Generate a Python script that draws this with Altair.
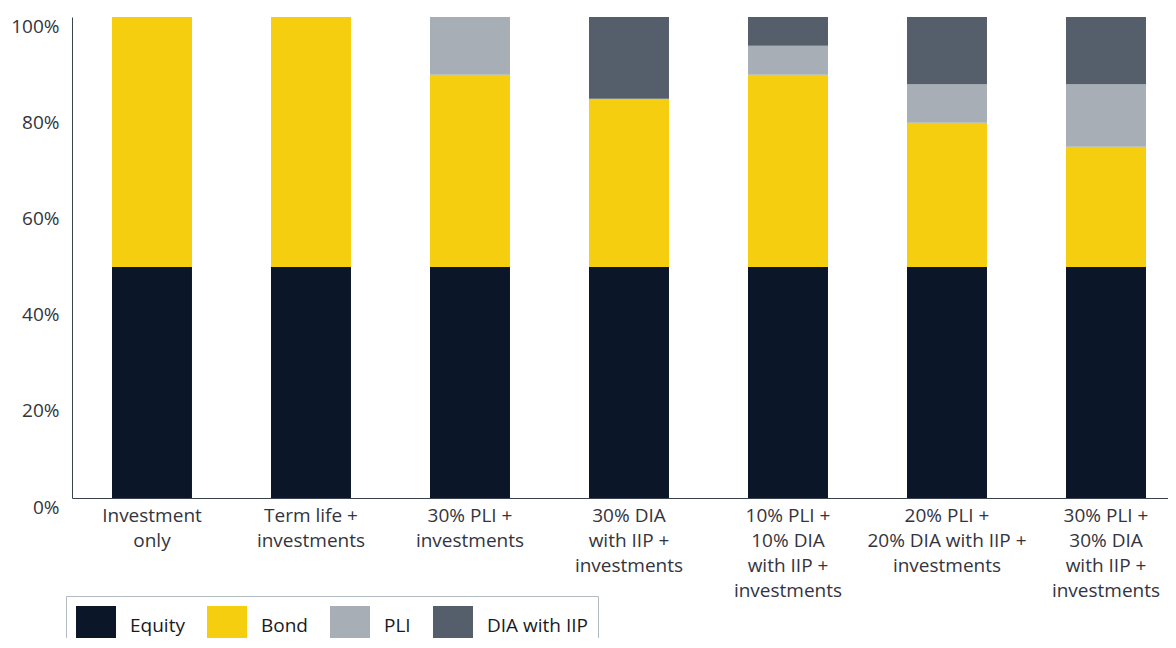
import altair as alt
import pandas as pd

categories = [
    "Investment|only",
    "Term life +|investments",
    "30% PLI +|investments",
    "30% DIA|with IIP +|investments",
    "10% PLI +|10% DIA|with IIP +|investments",
    "20% PLI +|20% DIA with IIP +|investments",
    "30% PLI +|30% DIA|with IIP +|investments",
]
series = ["Equity", "Bond", "PLI", "DIA with IIP"]
equity = [0.48, 0.48, 0.48, 0.48, 0.48, 0.48, 0.48]
bond = [0.52, 0.52, 0.40, 0.35, 0.40, 0.30, 0.25]
pli = [0.00, 0.00, 0.12, 0.00, 0.06, 0.08, 0.13]
dia = [0.00, 0.00, 0.00, 0.17, 0.06, 0.14, 0.14]
colors = ["#0b1628", "#f4ce0f", "#a7aeb5", "#545f6b"]

rows = []
for i, c in enumerate(categories):
    for j, (s, vals) in enumerate(zip(series, [equity, bond, pli, dia])):
        rows.append({"scenario": c, "series": s, "value": vals[i], "order": j})
df = pd.DataFrame(rows)

FONT = "Open Sans"
TXT = "#34343e"
NBSP = "\u00a0" * 12

chart = (
    alt.Chart(df)
    .mark_bar()
    .encode(
        x=alt.X(
            "scenario:N",
            sort=categories,
            title=None,
            scale=alt.Scale(paddingInner=0.497, paddingOuter=0.195, align=0.645, round=False),
            axis=alt.Axis(
                labelAngle=0,
                labelExpr="split(datum.label, '|')",
                labelLineHeight=25,
                labelBaseline="top",
                labelPadding=8,
                ticks=False,
                labelOverlap=False,
                labelBound=False,
                labelLimit=300,
                domainColor="#3a4250",
            ),
        ),
        y=alt.Y(
            "value:Q",
            stack="zero",
            title=None,
            scale=alt.Scale(domain=[0, 1], nice=False),
            axis=alt.Axis(
                format="%",
                values=[0, 0.2, 0.4, 0.6, 0.8, 1.0],
                grid=False,
                ticks=False,
                labelPadding=13,
                labelBaseline="top",
                domainColor="#3a4250",
            ),
        ),
        color=alt.Color(
            "series:N",
            sort=series,
            scale=alt.Scale(domain=series, range=colors),
            legend=alt.Legend(
                title=None,
                orient="none",
                legendX=-6,
                legendY=579,
                direction="horizontal",
                columns=4,
                symbolType="square",
                symbolSize=1600,
                symbolStrokeWidth=0,
                symbolOpacity=1,
                labelOffset=14,
                columnPadding=22,
                padding=10,
                strokeColor="#b3bac1",
                labelFontSize=19,
                labelFont=FONT,
                labelColor="#1a1a24",
                labelLimit=400,
                labelExpr="datum.label == 'DIA with IIP' ? datum.label + '" + NBSP + "' : datum.label",
            ),
        ),
        order=alt.Order("order:Q", sort="ascending"),
    )
    .properties(
        width=1096,
        height=481,
        autosize=alt.AutoSizeParams(type="none"),
        padding={"left": 64, "top": 9, "right": 0, "bottom": 140},
    )
    .configure_view(stroke=None)
    .configure_axis(
        labelFont=FONT,
        labelFontSize=19,
        labelColor=TXT,
        domainWidth=1,
    )
)

chart.save("out.html", embed_options={"renderer": "svg", "actions": False})
